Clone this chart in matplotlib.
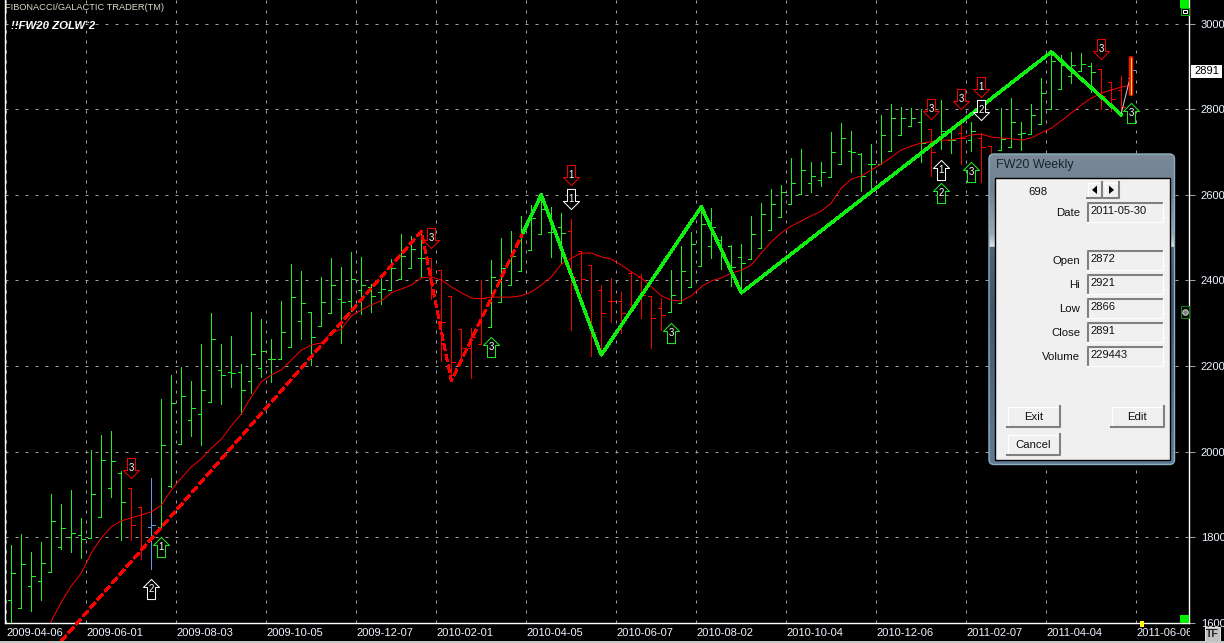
import matplotlib
matplotlib.use("Agg")
import matplotlib.pyplot as plt
import numpy as np
import pandas as pd
from matplotlib.path import Path
from matplotlib.patches import Rectangle, FancyBboxPatch, Polygon
from matplotlib.transforms import Bbox

plt.rcParams['font.family'] = ['Liberation Sans', 'DejaVu Sans']

# Dates shown under the chart
date_labels = ["2009-04-06", "2009-06-01", "2009-08-03", "2009-10-05", "2009-12-07",
               "2010-02-01", "2010-04-05", "2010-06-07", "2010-08-02", "2010-10-04",
               "2010-12-06", "2011-02-07", "2011-04-04", "2011-06-06"]
price_ticks = [1600, 1800, 2000, 2200, 2400, 2600, 2800, 3000]

# Weekly bars
bar_open = [1653, 1634, 1686, 1697, 1719, 1777, 1800, 1805, 1798, 1847, 1915, 1950, 1915, 1870, 1824, 1824,
            1919, 2018, 2074, 2088, 2116, 2191, 2186, 2186, 2165, 2195, 2216, 2216, 2244, 2305, 2326, 2293,
            2324, 2357, 2352, 2378, 2385, 2373, 2378, 2403, 2429, 2452, 2452, 2424, 2364, 2286, 2242, 2251,
            2291, 2350, 2389, 2422, 2471, 2509, 2513, 2525, 2515, 2469, 2436, 2378, 2352, 2352, 2417, 2408,
            2364, 2336, 2326, 2347, 2385, 2434, 2480, 2494, 2480, 2455, 2450, 2476, 2518, 2548, 2579, 2602,
            2628, 2635, 2642, 2672, 2703, 2695, 2672, 2672, 2703, 2740, 2761, 2770, 2754, 2728, 2728, 2745,
            2728, 2733, 2714, 2705, 2712, 2742, 2742, 2766, 2801, 2847, 2878, 2889, 2901, 2894, 2864, 2845,
            2872]
bar_high = [1782, 1807, 1765, 1789, 1901, 1878, 1910, 1845, 2004, 2039, 2048, 1955, 1915, 1870, 1938, 2123,
            2179, 2198, 2165, 2251, 2324, 2251, 2270, 2205, 2326, 2310, 2263, 2352, 2438, 2422, 2326, 2408,
            2452, 2431, 2466, 2455, 2392, 2410, 2450, 2509, 2504, 2515, 2452, 2424, 2364, 2286, 2289, 2401,
            2448, 2499, 2515, 2551, 2576, 2600, 2572, 2558, 2544, 2469, 2436, 2389, 2406, 2373, 2420, 2415,
            2364, 2359, 2424, 2480, 2513, 2572, 2569, 2504, 2483, 2485, 2551, 2581, 2614, 2623, 2686, 2707,
            2677, 2677, 2747, 2768, 2749, 2698, 2719, 2787, 2812, 2805, 2803, 2801, 2754, 2822, 2756, 2768,
            2770, 2745, 2714, 2803, 2826, 2770, 2812, 2873, 2934, 2927, 2934, 2932, 2908, 2894, 2864, 2878,
            2921]
bar_low = [1600, 1634, 1627, 1653, 1719, 1772, 1765, 1751, 1798, 1847, 1894, 1793, 1793, 1749, 1726, 1824,
           1917, 2018, 2036, 2015, 2116, 2111, 2151, 2088, 2137, 2174, 2163, 2216, 2244, 2263, 2202, 2293,
           2324, 2254, 2329, 2322, 2326, 2345, 2378, 2403, 2429, 2408, 2357, 2212, 2165, 2207, 2172, 2251,
           2291, 2350, 2389, 2422, 2471, 2509, 2455, 2441, 2284, 2371, 2223, 2226, 2303, 2277, 2336, 2312,
           2242, 2284, 2326, 2347, 2385, 2434, 2452, 2427, 2387, 2371, 2450, 2476, 2518, 2548, 2579, 2602,
           2607, 2621, 2642, 2672, 2653, 2609, 2607, 2672, 2703, 2740, 2761, 2677, 2644, 2707, 2698, 2672,
           2703, 2630, 2588, 2705, 2712, 2705, 2742, 2766, 2801, 2847, 2861, 2889, 2840, 2801, 2796, 2787,
           2866]
bar_close = [1716, 1737, 1709, 1740, 1838, 1821, 1810, 1796, 1901, 1980, 1978, 1882, 1828, 1775, 1828, 2015,
             2114, 2130, 2102, 2144, 2263, 2179, 2184, 2144, 2228, 2235, 2216, 2279, 2361, 2347, 2268, 2350,
             2389, 2350, 2403, 2389, 2364, 2380, 2429, 2457, 2473, 2452, 2394, 2303, 2209, 2242, 2268, 2359,
             2408, 2429, 2457, 2515, 2546, 2567, 2513, 2511, 2408, 2403, 2279, 2324, 2352, 2324, 2338, 2366,
             2312, 2319, 2366, 2422, 2485, 2532, 2525, 2459, 2431, 2441, 2509, 2555, 2579, 2607, 2628, 2658,
             2644, 2653, 2700, 2733, 2700, 2644, 2672, 2740, 2780, 2780, 2780, 2721, 2700, 2749, 2728, 2733,
             2749, 2712, 2646, 2731, 2770, 2745, 2787, 2838, 2913, 2903, 2903, 2906, 2887, 2831, 2824, 2805,
             2891]
down_weeks = [12, 13, 42, 43, 44, 45, 46, 47, 56, 57, 58, 59, 60, 61, 62, 63, 64, 65,
              92, 95, 97, 98, 109, 110, 111]
flat_weeks = [14, 112]

# Red moving average, starts at week 3
ma_start = 3
ma_values = [1560, 1604, 1648, 1686, 1716, 1763, 1798, 1824, 1838, 1845, 1852, 1859, 1875, 1910, 1938, 1964,
             1983, 2008, 2029, 2060, 2088, 2128, 2163, 2179, 2191, 2214, 2237, 2249, 2254, 2277, 2286, 2317,
             2331, 2343, 2352, 2371, 2380, 2389, 2406, 2408, 2401, 2385, 2371, 2359, 2357, 2361, 2361, 2361,
             2364, 2373, 2389, 2408, 2438, 2452, 2464, 2464, 2455, 2450, 2436, 2420, 2406, 2385, 2364, 2354,
             2352, 2364, 2385, 2399, 2406, 2417, 2424, 2436, 2464, 2490, 2511, 2527, 2539, 2551, 2562, 2581,
             2616, 2637, 2644, 2658, 2672, 2688, 2705, 2714, 2721, 2724, 2728, 2728, 2733, 2740, 2742, 2735,
             2733, 2731, 2728, 2733, 2745, 2756, 2773, 2791, 2810, 2826, 2838, 2845, 2852, 2857]

# Swing lines
dashed_weeks = [5, 41, 44, 53]
dashed_prices = [1557, 2515, 2165, 2600]
swing_weeks = [51.2, 53, 59, 69, 73, 104, 111]
swing_prices = [2513, 2600, 2226, 2572, 2371, 2934, 2787]
last_weeks = [111, 112]
last_prices = [2791, 2885]
spike_prices = [2921, 2835]

# Numbered arrows: week, price, digit
up_green = [(15, 1777, "1"), (48, 2244, "3"), (66, 2277, "3"), (93, 2604, "2"), (96, 2653, "3"), (112, 2791, "3")]
up_white = [(14, 1679, "2"), (93, 2658, "1")]
down_red = [(12, 1962, "3"), (42, 2499, "3"), (56, 2646, "1"), (92, 2801, "3"), (95, 2824, "3"),
            (97, 2852, "1"), (109, 2941, "3")]
down_white = [(56, 2590, "1"), (97, 2798, "2")]

# Dialog contents
dialog_rows = ["Open", "Hi", "Low", "Close", "Volume"]
dialog_values = ["2872", "2921", "2866", "2891", "229443"]

GREEN = "#20f020"
RED = "#f80000"
BLUE = "#5a9be0"
TXT = "#eef4ff"
PX = 0.72

fig = plt.figure(figsize=(12.24, 6.43), dpi=100, facecolor="black")
ax = fig.add_axes([5 / 1224, (643 - 622.7) / 643, 1184 / 1224, 622.7 / 643], facecolor="black")

n = len(bar_open)
xs = np.arange(n) + 0.5
bar_colors = [BLUE if i in flat_weeks else RED if i in down_weeks else GREEN for i in range(n)]

# Grid lines sit on the labelled weeks
start = pd.Timestamp(date_labels[0])
grid_weeks = [(pd.Timestamp(d) - start).days / 7 for d in date_labels]
ax.set_xticks(grid_weeks)
ax.set_xticklabels(date_labels, ha="left", fontsize=8, color=TXT)
ax.set_yticks(price_ticks)
ax.yaxis.tick_right()
ax.tick_params(axis="x", length=0, pad=4)
ax.tick_params(axis="y", length=4, width=PX, color="#a0a0a0", pad=4.5, labelsize=8, labelcolor=TXT)
ax.grid(True, color="#a0a0a0", linewidth=PX, linestyle=(0, (3, 7)), zorder=0)
ax.set_axisbelow(True)
for name in ["left", "right", "bottom"]:
    ax.spines[name].set_color("white")
    ax.spines[name].set_linewidth(1.0)
ax.spines["top"].set_visible(False)

# Bars
ax.vlines(xs, bar_low, bar_high, colors=bar_colors, linewidth=PX, antialiased=False, zorder=2)
ax.hlines(bar_open, xs - 0.33, xs, colors=bar_colors, linewidth=PX, antialiased=False, zorder=2)
ax.hlines(bar_close, xs, xs + 0.33, colors=bar_colors, linewidth=PX, antialiased=False, zorder=2)

# Moving average
ax.plot(np.arange(ma_start, ma_start + len(ma_values)) + 0.5, ma_values, color="#ff0000",
        linewidth=0.7, antialiased=True, zorder=3)

# Swing lines
ax.plot(np.array(dashed_weeks) + 0.5, dashed_prices, color="#ff0000", linewidth=1.4,
        linestyle=(0, (4.1, 2.05)), antialiased=False, clip_on=False, zorder=4)
ax.plot(np.array(swing_weeks) + 0.5, swing_prices, color="#10f010", linewidth=1.7,
        antialiased=False, zorder=5)
ax.plot(np.array(last_weeks) + 0.5, last_prices, color="#d0d0d0", linewidth=PX, zorder=5)
ax.plot([xs[-1], xs[-1]], spike_prices, color="#ff1010", linewidth=3.2, solid_capstyle="round", zorder=6)
ax.plot([xs[-1], xs[-1]], spike_prices, color="#ffe000", linewidth=PX, zorder=7)

# Arrow shapes
up_path = Path([(0, 10), (8, 2), (4, 2), (4, -10), (-4, -10), (-4, 2), (-8, 2), (0, 10)], closed=True)
down_path = Path([(0, -10), (8, -2), (4, -2), (4, 10), (-4, 10), (-4, -2), (-8, -2), (0, -10)], closed=True)


def draw_arrows(items, shape, color):
    for week, price, digit in items:
        ax.plot([week + 0.5], [price], marker=shape, ms=14.5, mfc="black", mec=color, mew=PX,
                linestyle="none", antialiased=False, zorder=8)
        ax.text(week + 0.5, price, digit, color="white", fontsize=7, ha="center", va="center", zorder=9)


draw_arrows(up_green, up_path, GREEN)
draw_arrows(up_white, up_path, "white")
draw_arrows(down_red, down_path, RED)
draw_arrows(down_white, down_path, "white")

ax.set_xlim(-0.13, 118.27)
ax.set_ylim(1600, 3055.4)

# Last date label is cut at the right edge of the plot
last = ax.get_xticklabels()[-1]
last.set_clip_on(True)
last.set_clip_box(Bbox([[0, 0], [1190, 643]]))

# Overlay in screen pixels for the window furniture
ov = fig.add_axes([0, 0, 1, 1], zorder=5)
ov.axis("off")

ov.text(5, 7, "FIBONACCI/GALACTIC TRADER(TM)", color="#d8d8c8", fontsize=6.7, va="center")
ov.text(11, 26, "!!FW20 ZOLW`2", color="white", fontsize=8.2, fontweight="bold", fontstyle="italic", va="center")

# Scroll markers and last price tag
ov.add_patch(Rectangle((1180, 0), 9, 8, fc="#00f000", ec="none"))
ov.add_patch(Rectangle((1180.5, 7.5), 8, 7, fc="black", ec="#00c000", lw=PX))
ov.add_patch(Rectangle((1182.5, 9.5), 4, 3, fc="black", ec="white", lw=PX))
ov.add_patch(Rectangle((1180, 615), 9, 7.5, fc="#00f000", ec="none"))
ov.add_patch(Rectangle((1140, 621), 4, 6, fc="#ffff00", ec="none"))
ov.add_patch(Rectangle((1180.5, 305.5), 8, 12, fc="black", ec="#108010", lw=PX))
ov.plot([1184.5], [312], marker="o", ms=4, mfc="#808080", mec="#d0d0d0", mew=PX)
ov.add_patch(Rectangle((1191, 65), 31, 13, fc="white", ec="none"))
ov.text(1206.5, 71.5, "2891", color="black", fontsize=8, ha="center", va="center")
ov.add_patch(Rectangle((1205, 627), 15, 14, fc="#c0c0c0", ec="#e0e0e0", lw=PX))
ov.text(1212.5, 634, "TF", color="#202020", fontsize=7.5, fontweight="bold", ha="center", va="center")
ov.add_patch(Rectangle((0, 641), 1224, 2, fc="#c8c8c8", ec="none"))

# Dialog frame
frame_rows = [(0.00, "#7a8a98"), (0.12, "#6f8090"), (0.26, "#9aa8b2"), (0.30, "#dfe6ea"), (0.302, "#4d6378"),
              (0.50, "#3f566c"), (1.00, "#5f7c94")]
grad = np.linspace(0, 1, 312)
stops = [s for s, c in frame_rows]
rgb = np.array([matplotlib.colors.to_rgb(c) for s, c in frame_rows])
frame_img = np.stack([np.interp(grad, stops, rgb[:, k]) for k in range(3)], axis=1)[:, None, :]
frame = FancyBboxPatch((989, 154), 185.5, 310.5, boxstyle="round,pad=0,rounding_size=5", fc="none",
                       ec="#8fb0c4", lw=1.0, zorder=2)
ov.add_patch(frame)
im = ov.imshow(frame_img, extent=[989, 1174.5, 464.5, 154], aspect="auto", zorder=1)
im.set_clip_path(frame)
ov.add_patch(Rectangle((994.5, 177.5), 175.5, 282.5, fc="#f0f0f0", ec="black", lw=1.0, zorder=3))
ov.text(996, 165, "FW20 Weekly", color="#18242e", fontsize=9, va="center", zorder=4)


def sunken(x0, y0, x1, y1, text):
    ov.add_patch(Rectangle((x0, y0), x1 - x0, y1 - y0, fc="#f0f0f0", ec="none", zorder=3))
    ov.plot([x0 + 0.5, x0 + 0.5, x1 - 1], [y1 - 1, y0 + 0.5, y0 + 0.5], color="#808080", lw=1.5, zorder=4)
    ov.plot([x0, x1 - 0.5, x1 - 0.5], [y1 - 0.5, y1 - 0.5, y0], color="white", lw=0.9, zorder=4)
    ov.text(x0 + 3, y0 + 9, text, color="#101010", fontsize=8, va="center", zorder=5)


def raised(x0, y0, x1, y1, text=None):
    ov.add_patch(Rectangle((x0, y0), x1 - x0, y1 - y0, fc="#f0f0f0", ec="none", zorder=3))
    ov.plot([x0 + 0.5, x0 + 0.5, x1 - 1], [y1 - 1, y0 + 0.5, y0 + 0.5], color="white", lw=0.9, zorder=4)
    ov.plot([x0, x1 - 0.5, x1 - 0.5], [y1 - 0.5, y1 - 0.5, y0], color="#808080", lw=1.5, zorder=4)
    if text:
        ov.text((x0 + x1) / 2, (y0 + y1) / 2, text, color="#101010", fontsize=8.2, ha="center", va="center", zorder=5)


ov.text(1028, 192, "698", color="#101010", fontsize=8.2, va="center", zorder=5)
raised(1087, 182, 1102, 198)
raised(1104, 182, 1119, 198)
ov.add_patch(Polygon([(1097, 185.5), (1097, 194), (1092, 190)], fc="black", ec="none", zorder=5))
ov.add_patch(Polygon([(1109, 185.5), (1109, 194), (1114, 190)], fc="black", ec="none", zorder=5))

ov.text(1080, 213, "Date", color="#101010", fontsize=8.2, ha="right", va="center", zorder=5)
sunken(1087, 202, 1163, 222, "2011-05-30")
for k in range(len(dialog_rows)):
    y0 = 250 + 24 * k
    ov.text(1080, y0 + 11, dialog_rows[k], color="#101010", fontsize=8.2, ha="right", va="center", zorder=5)
    sunken(1087, y0, 1163, y0 + 20, dialog_values[k])

raised(1007, 406, 1060, 427, "Exit")
raised(1111, 406, 1164, 427, "Edit")
raised(1007, 434, 1060, 455, "Cancel")

ov.set_xlim(0, 1224)
ov.set_ylim(643, 0)

fig.savefig("out.png", dpi=100, facecolor="black")
